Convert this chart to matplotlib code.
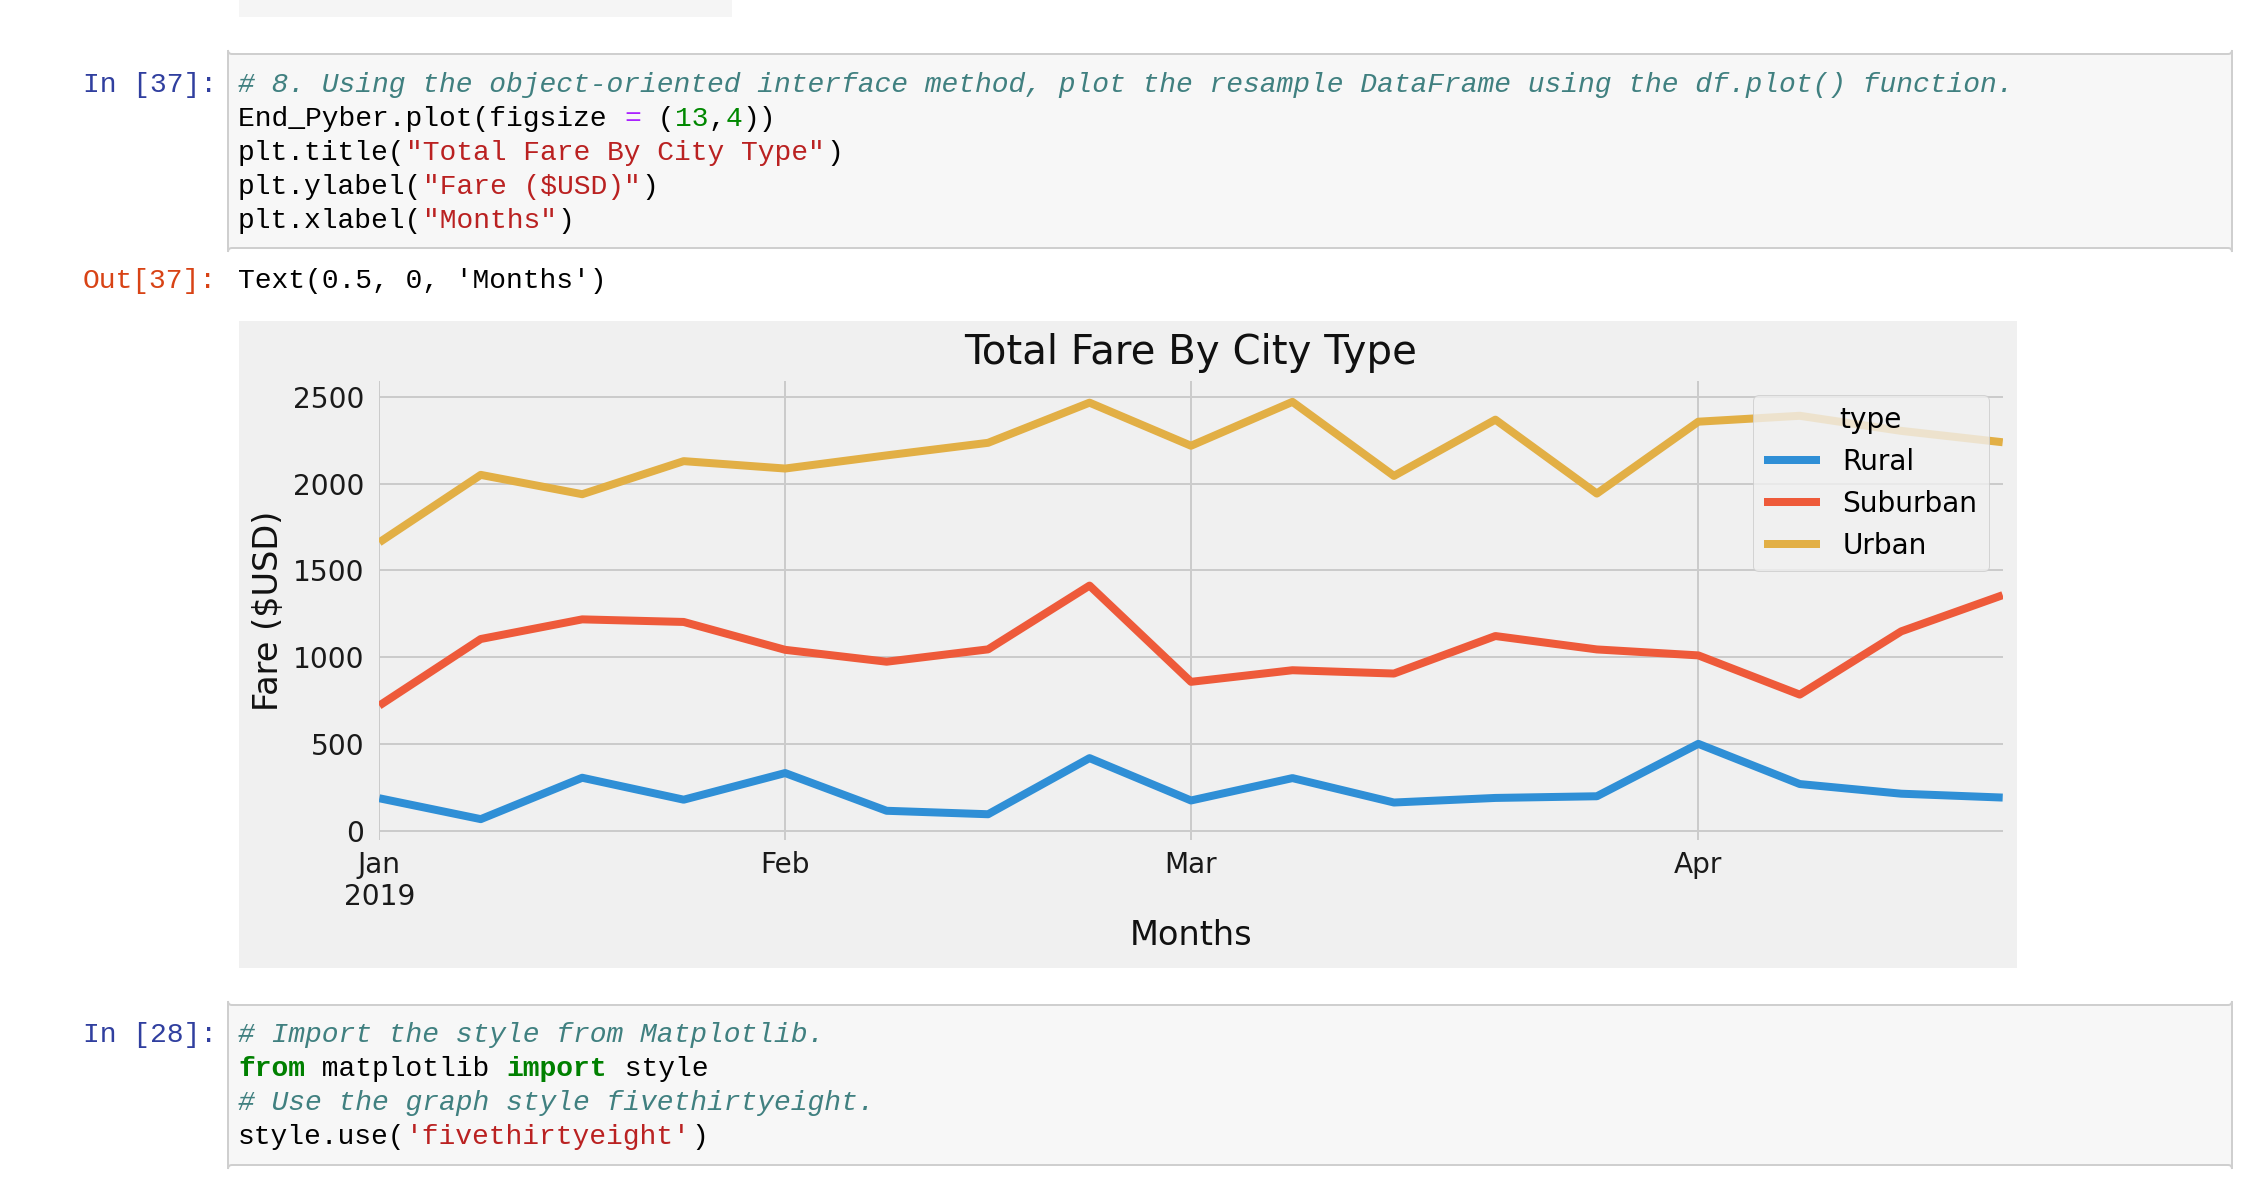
import matplotlib
matplotlib.use("Agg")
import matplotlib.pyplot as plt
from matplotlib.patches import Rectangle, FancyBboxPatch
from matplotlib.transforms import Affine2D

# ---------------- data ----------------
weeks = ["2019-01-06", "2019-01-13", "2019-01-20", "2019-01-27", "2019-02-03",
         "2019-02-10", "2019-02-17", "2019-02-24", "2019-03-03", "2019-03-10",
         "2019-03-17", "2019-03-24", "2019-03-31", "2019-04-07", "2019-04-14",
         "2019-04-21", "2019-04-28"]
rural = [187.92, 67.65, 306.00, 179.69, 333.08, 115.80, 95.82, 419.06, 175.14,
         303.94, 163.39, 189.76, 199.42, 501.24, 269.79, 214.14, 191.85]
suburban = [721.60, 1105.13, 1218.20, 1203.28, 1042.79, 974.34, 1045.50, 1412.74,
            858.46, 925.27, 906.20, 1122.20, 1045.06, 1010.73, 784.82, 1149.27, 1357.75]
urban = [1661.68, 2050.43, 1939.02, 2129.51, 2086.94, 2162.64, 2235.07, 2466.29,
         2218.20, 2470.93, 2044.42, 2368.37, 1942.77, 2356.70, 2390.72, 2303.80, 2238.29]
series_names = ["Rural", "Suburban", "Urban"]
series_colors = ["#2f8fd6", "#ee5a3a", "#e2af45"]
month_ticks = [0, 4, 8, 13]          # index of the week where each month starts
month_labels = ["Jan\n2019", "Feb", "Mar", "Apr"]
y_ticks = [0, 500, 1000, 1500, 2000, 2500]

# ---------------- figure ----------------
W, H, DPI = 2260, 1186, 100
fig = plt.figure(figsize=(W / DPI, H / DPI), dpi=DPI, facecolor="white")
pix = Affine2D().scale(1, -1).translate(0, H)   # top-left origin pixel coords

MONO = ["Liberation Mono", "DejaVu Sans Mono"]
CODE_FS = 20.16
CW = 0.60009 * CODE_FS * DPI / 72.0   # monospace advance in pixels


def box(x0, y0, x1, y1, fc, ec=None, lw=0, z=-5, rounded=False):
    if rounded:
        p = FancyBboxPatch((x0, y1), x1 - x0, y0 - y1,
                           boxstyle="round,pad=0,rounding_size=4",
                           transform=pix, facecolor=fc, edgecolor=ec or fc,
                           linewidth=lw, zorder=z)
    else:
        p = Rectangle((x0, y1), x1 - x0, y0 - y1, transform=pix,
                      facecolor=fc, edgecolor=ec or fc, linewidth=lw, zorder=z)
    fig.add_artist(p)


def code_line(x0, yb, segs):
    n = 0
    for txt, col, style, weight in segs:
        fig.text(x0 + n * CW, yb, txt, transform=pix, family=MONO,
                 fontsize=CODE_FS, color=col, style=style, weight=weight,
                 va="baseline", ha="left", parse_math=False)
        n += len(txt)


K, COM, STR, NUM, OP, KW = "#000000", "#408080", "#BA2121", "#008800", "#AA22FF", "#008000"
N = "normal"

# previous output remnant
box(239, -2, 732, 17, "#f5f5f5")

# cell 1
box(228, 54, 2232, 248, "#f7f7f7", "#cfcfcf", 1.44, rounded=True)
code_line(83, 92, [("In [37]:", "#303F9F", N, N)])
x0 = 238
code_line(x0, 92, [("# 8. Using the object-oriented interface method, plot the resample "
                    "DataFrame using the df.plot() function.", COM, "italic", N)])
code_line(x0, 126, [("End_Pyber.plot(figsize ", K, N, N), ("=", OP, N, N), (" (", K, N, N),
                    ("13", NUM, N, N), (",", K, N, N), ("4", NUM, N, N), ("))", K, N, N)])
code_line(x0, 160, [("plt.title(", K, N, N), ('"Total Fare By City Type"', STR, N, N), (")", K, N, N)])
code_line(x0, 194, [("plt.ylabel(", K, N, N), ('"Fare ($USD)"', STR, N, N), (")", K, N, N)])
code_line(x0, 228, [("plt.xlabel(", K, N, N), ('"Months"', STR, N, N), (")", K, N, N)])

# output prompt
code_line(83, 288, [("Out[37]:", "#D84315", N, N)])
code_line(x0, 288, [("Text(0.5, 0, 'Months')", K, N, N)])

# chart background
box(239, 321, 2017, 968, "#f0f0f0")

# cell 2
box(228, 1005, 2232, 1165, "#f7f7f7", "#cfcfcf", 1.44, rounded=True)
code_line(83, 1042, [("In [28]:", "#303F9F", N, N)])
code_line(x0, 1042, [("# Import the style from Matplotlib.", COM, "italic", N)])
code_line(x0, 1076, [("from", KW, N, "bold"), (" matplotlib ", K, N, N),
                     ("import", KW, N, "bold"), (" style", K, N, N)])
code_line(x0, 1110, [("# Use the graph style fivethirtyeight.", COM, "italic", N)])
code_line(x0, 1144, [("style.use(", K, N, N), ("'fivethirtyeight'", STR, N, N), (")", K, N, N)])

# ---------------- chart ----------------
AX_L, AX_R, AX_T, AX_B = 379.3, 2002.7, 381.0, 840.0
ax = fig.add_axes([AX_L / W, 1 - AX_B / H, (AX_R - AX_L) / W, (AX_B - AX_T) / H])
ax.set_facecolor("#f0f0f0")
x = list(range(len(weeks)))
for name, vals, col in zip(series_names, [rural, suburban, urban], series_colors):
    ax.plot(x, vals, color=col, lw=5.76, solid_capstyle="butt", label=name)

ax.set_xlim(0, len(weeks) - 1)
ax.set_xticks(month_ticks, month_labels)
ax.set_yticks(y_ticks)
ax.grid(True, color="#cbcbcb", lw=1.44)
ax.set_axisbelow(True)
for s in ax.spines.values():
    s.set_visible(False)
ax.tick_params(axis="both", length=0, labelsize=20.16, colors="#1a1a1a")
ax.tick_params(axis="x", pad=7.6)
ax.tick_params(axis="y", pad=10.8)

ax.set_title("Total Fare By City Type", fontsize=29.03, pad=11.9, color="#111111")
ax.set_ylabel("Fare ($USD)", fontsize=24.19, color="#111111")
ax.set_xlabel("Months", fontsize=24.19, color="#111111")
ax.yaxis.set_label_coords((285 - AX_L) / (AX_R - AX_L), 0.5)
ax.xaxis.set_label_coords(0.5, -(919 - AX_B) / (AX_B - AX_T))

leg = ax.legend(title="type", loc="upper right", fontsize=20.16, title_fontsize=20.16,
                facecolor="#f0f0f0", edgecolor="0.8", framealpha=0.8, fancybox=True)
leg.get_frame().set_linewidth(0.72)

fig.savefig("out.png", dpi=DPI, facecolor="white")
